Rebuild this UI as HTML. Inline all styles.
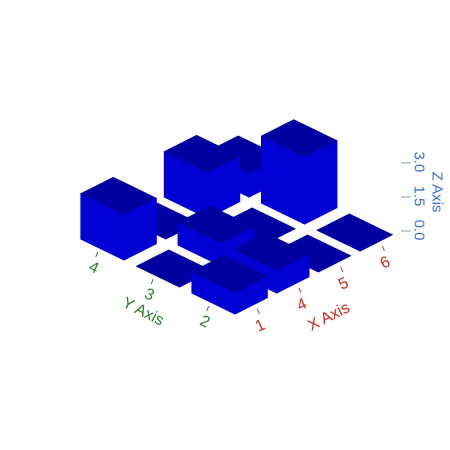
<!DOCTYPE html>
<html><head><meta charset="utf-8"><style>
html,body{margin:0;padding:0;background:#fff;width:450px;height:450px;overflow:hidden}
svg{display:block}
text{font-family:"Liberation Sans",sans-serif}
</style></head><body>
<svg id="chart" width="450" height="450" viewBox="0 0 450 450">
<g id="bars"></g>
<g id="axes"></g>
</svg>
<script>
const xCategories = ["1","4","5","6"];
const yCategories = ["2","3","4"];
// heights[xIndex][yIndex]
const heightsX1 = [0.9, 0, 1.9];
const heightsX4 = [0.95, 0.95, 0];
const heightsX5 = [0, 0, 1.9];
const heightsX6 = [0, 2.8, 1.0];
const zTickValues = [0, 1.5, 3.0];
const zTickLabels = ["0.0","1.5","3.0"];

const series = [heightsX1, heightsX4, heightsX5, heightsX6];
const NS = "http://www.w3.org/2000/svg";
const C = [229.6, 295.5], ex = [41.7, -21], ey = [-55.5, -27], zs = 24;
const half = 0.39;
function proj(i, j, z) {
  return [C[0] + i*ex[0] + j*ey[0], C[1] + i*ex[1] + j*ey[1] - z*zs];
}
function pts(a) { return a.map(p => p[0].toFixed(1)+","+p[1].toFixed(1)).join(" "); }
const barsG = document.getElementById("bars");
const axesG = document.getElementById("axes");
function poly(parent, p, fill, name) {
  const el = document.createElementNS(NS, "polygon");
  el.setAttribute("points", pts(p));
  el.setAttribute("fill", fill);
  el.setAttribute("stroke", fill);
  el.setAttribute("stroke-width", "0.6");
  
  
  parent.appendChild(el);
}
const cells = [];
series.forEach((col, i) => col.forEach((h, j) => cells.push({i, j, h})));
cells.sort((a, b) => proj(a.i, a.j, 0)[1] - proj(b.i, b.j, 0)[1]);
cells.forEach(c => {
  const g = document.createElementNS(NS, "g");
  
  
  barsG.appendChild(g);
  const i = c.i, j = c.j, h = c.h;
  const b = (di, dj, z) => proj(i + di, j + dj, z);
  if (h > 0) {
    poly(g, [b(-half,-half,0), b(half,-half,0), b(half,-half,h), b(-half,-half,h)], "#0000d4", "bar-right-face");
    poly(g, [b(-half,-half,0), b(-half,half,0), b(-half,half,h), b(-half,-half,h)], "#0000d4", "bar-left-face");
  }
  poly(g, [b(-half,-half,h), b(half,-half,h), b(half,half,h), b(-half,half,h)], "#0000a0", "bar-top-face");
});
function line(p1, p2, stroke, name) {
  const el = document.createElementNS(NS, "line");
  el.setAttribute("x1", p1[0]); el.setAttribute("y1", p1[1]);
  el.setAttribute("x2", p2[0]); el.setAttribute("y2", p2[1]);
  el.setAttribute("stroke", stroke);
  
  
  axesG.appendChild(el);
}
function text(x, y, s, fill, rot, name, size) {
  const el = document.createElementNS(NS, "text");
  el.setAttribute("x", x); el.setAttribute("y", y);
  el.setAttribute("fill", fill);
  el.setAttribute("font-size", size || 16);
  el.setAttribute("text-anchor", "middle");
  el.setAttribute("dominant-baseline", "central");
  el.setAttribute("transform", "rotate(" + rot + " " + x + " " + y + ")");
  el.textContent = s;
  
  
  axesG.appendChild(el);
}
xCategories.forEach((lab, i) => {
  const t = proj(i, -0.5, 0);
  line([t[0], t[1]], [t[0]+2, t[1]+5], "#cc3322", "x-tick");
  text(t[0]+3, t[1]+17, lab, "#cc2a1e", -25, "x-tick-label");
});
yCategories.forEach((lab, j) => {
  const t = proj(-0.5, j, 0);
  line([t[0], t[1]], [t[0]-2, t[1]+5], "#2e7d2e", "y-tick");
  text(t[0]-4, t[1]+16, lab, "#2e7d2e", 25, "y-tick-label");
});
text(329, 317, "X Axis", "#cc2a1e", -27, "x-axis-title");
text(143, 312, "Y Axis", "#2e7d2e", 27, "y-axis-title");
const zBase = 231, zPx = 22.7;
zTickValues.forEach((v, k) => {
  const y = zBase - v * zPx;
  line([401, y], [411, y], "#999", "z-tick");
  text(419, y - 1, zTickLabels[k], "#3a6fd8", 90, "z-tick-label", 15);
});
text(437, 192, "Z Axis", "#3a6fd8", 90, "z-axis-title", 15);
</script>
</body></html>
